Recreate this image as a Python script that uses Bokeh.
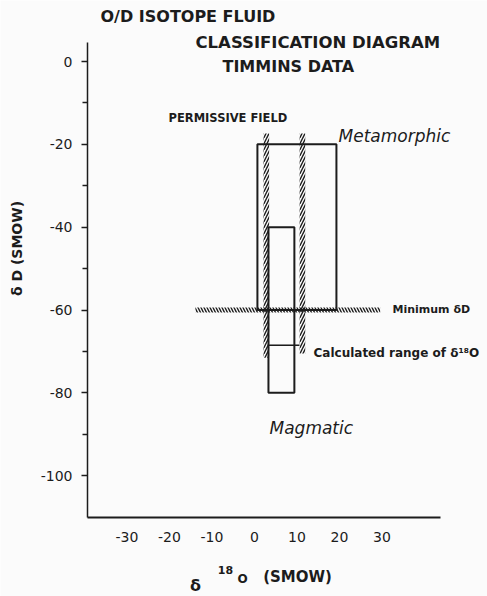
from bokeh.plotting import figure
from bokeh.models import Label, FixedTicker, PrintfTickFormatter
from bokeh.embed import file_html
from bokeh.resources import INLINE

# ---------------- data ----------------
x_ticks = [-30, -20, -10, 0, 10, 20, 30]
y_major = [0, -20, -40, -60, -80, -100]
y_minor = [-10, -30, -50, -70, -90]

# rectangular fields: Metamorphic, Magmatic
box_names = ["Metamorphic", "Magmatic"]
box_x0 = [0.7, 3.3]
box_x1 = [19.3, 9.4]
box_y0 = [-60, -80]
box_y1 = [-20, -40]

# permissive field boundaries (hatched verticals)
perm_x = [2.8, 11.3]
perm_top = [-17.4, -17.4]
perm_bottom = [-71.5, -70.5]

# minimum dD (hatched horizontal)
mind_y = -60
mind_x = [-13.9, 29.6]

# calculated range of d18O (short horizontal)
calc_y = -68.5
calc_x = [3.3, 10.6]

# ---------------- layout ----------------
W, H = 487, 596
AX_L, AX_R, AX_T, AX_B = 87, 440, 42, 517     # pixel extent of the axes
XA = (-39.3, 43.8)                             # axis extents in data units
YA = (-110.1, 4.6)
XS = (AX_R - AX_L) / (XA[1] - XA[0])           # px per unit
YS = (AX_B - AX_T) / (YA[1] - YA[0])
INK = "#1c1c1c"
BG = "#fbfbfb"
FONT = "DejaVu Sans"


def dx(px):
    return XA[0] + (px - AX_L) / XS


def dy(py):
    return YA[1] - (py - AX_T) / YS


# the frame covers the whole page; axes sit at fixed locations
p = figure(width=W, height=H, x_range=(dx(0), dx(W)), y_range=(dy(H), dy(0)),
           output_backend="svg", toolbar_location=None,
           min_border_left=0, min_border_right=0,
           min_border_top=0, min_border_bottom=0)
p.background_fill_color = BG
p.border_fill_color = BG
p.outline_line_color = None
p.grid.visible = False

# axes
p.xaxis.fixed_location = YA[0]
p.xaxis.bounds = XA
p.xaxis.ticker = FixedTicker(ticks=x_ticks)
p.xaxis.formatter = PrintfTickFormatter(format="%d")
p.xaxis.major_tick_out = 0
p.xaxis.major_tick_in = 0
p.xaxis.minor_tick_out = 0
p.xaxis.minor_tick_in = 0
p.xaxis.axis_line_width = 2
p.xaxis.axis_line_color = INK
p.xaxis.major_label_standoff = 14
p.xaxis.major_label_text_font = FONT
p.xaxis.major_label_text_font_size = "14px"
p.xaxis.major_label_text_color = INK

p.yaxis.fixed_location = XA[0]
p.yaxis.bounds = YA
p.yaxis.ticker = FixedTicker(ticks=y_major, minor_ticks=y_minor)
p.yaxis.formatter = PrintfTickFormatter(format="%d")
p.yaxis.major_tick_out = 6
p.yaxis.major_tick_in = 0
p.yaxis.minor_tick_out = 5
p.yaxis.minor_tick_in = 0
p.yaxis.major_tick_line_color = INK
p.yaxis.minor_tick_line_color = INK
p.yaxis.major_tick_line_width = 1.5
p.yaxis.minor_tick_line_width = 1.5
p.yaxis.axis_line_width = 1.5
p.yaxis.axis_line_color = INK
p.yaxis.major_label_standoff = 9
p.yaxis.major_label_text_font = FONT
p.yaxis.major_label_text_font_size = "14px"
p.yaxis.major_label_text_color = INK

# boxes
p.quad(left=box_x0, right=box_x1, bottom=box_y0, top=box_y1,
       fill_alpha=0, line_color=INK, line_width=2)

# permissive field hatched boundaries
hw = 2.8 / XS
p.quad(left=[x - hw for x in perm_x], right=[x + hw for x in perm_x],
       bottom=perm_bottom, top=perm_top,
       fill_alpha=0, line_color=None,
       hatch_pattern="right_diagonal_line", hatch_color=INK,
       hatch_weight=1.4, hatch_scale=6)

# minimum dD hatched line
hh = 2.5 / YS
p.quad(left=[mind_x[0]], right=[mind_x[1]],
       bottom=[mind_y - hh], top=[mind_y + hh],
       fill_alpha=0, line_color=None,
       hatch_pattern="left_diagonal_line", hatch_color=INK,
       hatch_weight=1.4, hatch_scale=6)

# calculated range line
p.line(x=calc_x, y=[calc_y, calc_y], line_color=INK, line_width=1.5)


def lab(text, px, py, size, align="left", style="normal", angle=0.0):
    p.add_layout(Label(x=dx(px), y=dy(py), text=text, text_font=FONT,
                       text_font_size=size, text_font_style=style,
                       text_color=INK, text_align=align,
                       text_baseline="middle", angle=angle))


# titles
lab("O/D ISOTOPE FLUID", 100, 16, "16px", style="bold")
lab("CLASSIFICATION DIAGRAM", 195, 42, "16.5px", style="bold")
lab("TIMMINS DATA", 222, 66, "16px", style="bold")

# annotations
lab("PERMISSIVE FIELD", 168, 117, "11.5px", style="bold")
lab("Metamorphic", 338, 135, "17px", style="italic")
lab("Magmatic", 269, 427, "17px", style="italic")
lab("Minimum δD", 392, 309, "11px", style="bold")
lab("Calculated range of δ¹⁸O", 313, 352, "12px", style="bold")

# axis titles
lab("δ D (SMOW)", 16, 248, "14px", align="center", style="bold",
    angle=1.5707963)
lab("δ", 195, 585, "16px", align="center", style="bold")
lab("18", 225, 569, "11px", align="center", style="bold")
lab("O", 242, 578, "12px", align="center", style="bold")
lab("(SMOW)", 297, 576, "15px", align="center", style="bold")

open("out.html", "w").write(file_html(p, INLINE))
